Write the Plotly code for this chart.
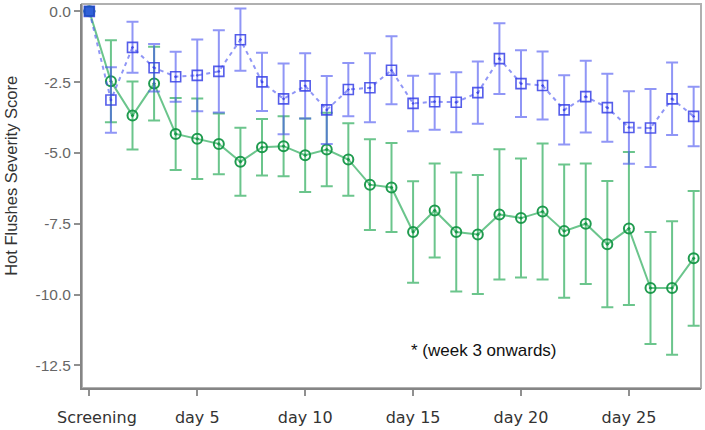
import plotly.graph_objects as go

categories = ["Screening"] + [f"day {i}" for i in range(1, 29)]

placebo_mean = [0.0, -3.13, -1.27, -1.99, -2.31, -2.26, -2.12, -1.00, -2.49, -3.09,
                -2.63, -3.48, -2.76, -2.70, -2.08, -3.25, -3.19, -3.21, -2.87, -1.67,
                -2.55, -2.62, -3.48, -3.01, -3.40, -4.10, -4.12, -3.09, -3.71]
placebo_err = [0.0, 1.16, 0.90, 0.84, 0.88, 1.27, 1.45, 1.10, 1.03, 1.25,
               1.15, 1.20, 0.94, 1.22, 1.20, 0.98, 0.99, 1.06, 1.10, 1.25,
               1.18, 1.20, 1.22, 1.27, 1.20, 1.28, 1.38, 1.28, 1.05]

active_mean = [0.0, -2.47, -3.68, -2.55, -4.33, -4.50, -4.68, -5.31, -4.80, -4.76,
               -5.08, -4.88, -5.23, -6.12, -6.22, -7.79, -7.03, -7.79, -7.88, -7.17,
               -7.30, -7.07, -7.76, -7.50, -8.22, -7.67, -9.77, -9.77, -8.72]
active_err = [0.0, 1.45, 1.20, 1.30, 1.27, 1.42, 1.07, 1.20, 1.00, 1.06,
              1.30, 1.30, 1.28, 1.60, 1.57, 1.79, 1.66, 2.10, 2.10, 2.30,
              2.10, 2.40, 2.35, 2.13, 2.23, 2.70, 1.98, 2.36, 2.38]

x_tick_vals = ["Screening", "day 5", "day 10", "day 15", "day 20", "day 25"]
x_tick_text = ["\u00a0\u00a0\u00a0Screening", "day 5", "day 10", "day 15", "day 20", "day 25"]
y_tick_vals = [0.0, -2.5, -5.0, -7.5, -10.0, -12.5]
y_tick_text = ["0.0", "-2.5", "-5.0", "-7.5", "-10.0", "-12.5"]

green = "rgba(50,175,95,0.72)"
green_dark = "rgba(20,150,70,0.95)"
blue = "rgba(70,80,240,0.6)"
blue_dark = "rgba(55,65,230,0.85)"

fig = go.Figure()

fig.add_trace(go.Scatter(
    x=categories, y=active_mean, mode="lines+markers",
    line=dict(color=green, width=2),
    marker=dict(symbol="circle-open-dot", size=10, color=green_dark, line=dict(width=2, color=green_dark)),
    error_y=dict(type="data", array=active_err, visible=True, color=green, thickness=2, width=6),
    showlegend=False,
))

fig.add_trace(go.Scatter(
    x=categories, y=placebo_mean, mode="lines+markers",
    line=dict(color=blue, width=2, dash="4px,4px"),
    marker=dict(symbol="square-open-dot", size=10, color=blue_dark, line=dict(width=1.6, color=blue_dark)),
    error_y=dict(type="data", array=placebo_err, visible=True, color=blue, thickness=2, width=6),
    showlegend=False,
))

fig.add_trace(go.Scatter(
    x=categories[:1], y=placebo_mean[:1], mode="markers",
    marker=dict(symbol="square", size=9, color="#3060d8", line=dict(width=1.5, color="#2050c0")),
    showlegend=False,
))

fig.update_layout(
    width=705, height=430,
    margin=dict(l=82, r=4, t=3, b=39),
    plot_bgcolor="white", paper_bgcolor="white",
    xaxis=dict(
        type="category", range=[-0.34, 28.34],
        tickmode="array", tickvals=x_tick_vals, ticktext=x_tick_text,
        showgrid=False, zeroline=False,
        showline=True, linecolor="#858585", linewidth=2,
        ticks="outside", ticklen=6, tickwidth=2, tickcolor="#909090",
        tickfont=dict(family="DejaVu Sans", size=16, color="#333333"),
        ticklabelstandoff=8,
    ),
    yaxis=dict(
        range=[-13.3, 0.26],
        tickmode="array", tickvals=y_tick_vals, ticktext=y_tick_text,
        showgrid=False, zeroline=False,
        showline=True, linecolor="#858585", linewidth=2,
        ticks="outside", ticklen=6, tickwidth=2, tickcolor="#909090",
        tickfont=dict(family="Liberation Sans, Arial", size=15.5, color="#666666"),
        ticklabelstandoff=0,
    ),
    shapes=[dict(type="rect", xref="paper", yref="paper", x0=0, x1=1, y0=0, y1=1,
                 line=dict(color="#b0b0b0", width=2), layer="below")],
    annotations=[
        dict(text="Hot Flushes Severity Score", textangle=-90, xref="paper", yref="paper",
             x=-0.115, y=0.552, xanchor="center", yanchor="middle", showarrow=False,
             font=dict(family="Liberation Sans, Arial", size=16.5, color="#333333")),
        dict(text="* (week 3 onwards)", x=18.3, y=-11.98, xref="x", yref="y",
             showarrow=False, xanchor="center", yanchor="middle",
             font=dict(family="Liberation Sans, Arial", size=17, color="#111111")),
    ],
)

fig.write_html("out.html", config={"displayModeBar": False},
               post_script="document.body.style.margin='0';document.body.style.padding='0';")
